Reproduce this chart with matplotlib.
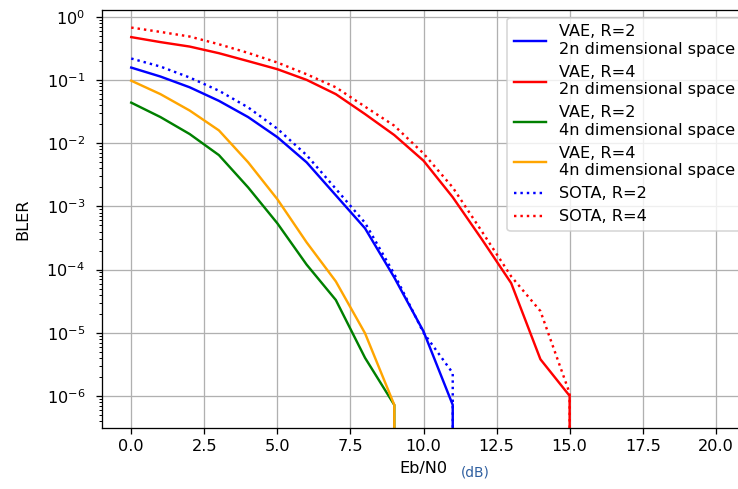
import matplotlib.pyplot as plt
import numpy as np

# Eb/N0 grid (dB) and block error rates
ebn0 = list(range(0, 21))
x_ticks = [0, 2.5, 5, 7.5, 10, 12.5, 15, 17.5, 20]
y_ticks = [1, 1e-1, 1e-2, 1e-3, 1e-4, 1e-5, 1e-6]

vae_r2_2n = [0.158, 0.114, 0.077, 0.047, 0.026, 0.0125, 0.005, 0.0015, 4.5e-4, 7.5e-5, 1.05e-5, 7.2e-7,
             0, 0, 0, 0, 0, 0, 0, 0, 0]
vae_r4_2n = [0.48, 0.40, 0.34, 0.267, 0.20, 0.149, 0.101, 0.060, 0.029, 0.0135, 0.0053, 0.0014, 3.0e-4,
             6.1e-5, 3.8e-6, 1.0e-6, 0, 0, 0, 0, 0]
vae_r2_4n = [0.044, 0.026, 0.014, 0.0065, 0.0020, 5.4e-4, 1.2e-4, 3.3e-5, 4.0e-6, 7.2e-7,
             0, 0, 0, 0, 0, 0, 0, 0, 0, 0, 0]
vae_r4_4n = [0.098, 0.060, 0.033, 0.016, 0.005, 0.0013, 2.7e-4, 6.5e-5, 9.8e-6, 7.2e-7,
             0, 0, 0, 0, 0, 0, 0, 0, 0, 0, 0]
sota_r2 = [0.22, 0.164, 0.11, 0.068, 0.037, 0.017, 0.0065, 0.0019, 5.5e-4, 8.5e-5, 1.0e-5, 2.3e-6,
           0, 0, 0, 0, 0, 0, 0, 0, 0]
sota_r4 = [0.68, 0.58, 0.49, 0.37, 0.27, 0.19, 0.124, 0.077, 0.038, 0.019, 0.0069, 0.002, 4.0e-4,
           7.8e-5, 2.2e-5, 1.1e-6, 0, 0, 0, 0, 0]

fig = plt.figure(figsize=(738 / 116, 489 / 116), dpi=116)
ax = fig.add_axes([102 / 738, 61 / 489, 643 / 738, 418 / 489])

ax.plot(ebn0, vae_r2_2n, color="blue", label="VAE, R=2\n2n dimensional space")
ax.plot(ebn0, vae_r4_2n, color="red", label="VAE, R=4\n2n dimensional space")
ax.plot(ebn0, vae_r2_4n, color="green", label="VAE, R=2\n4n dimensional space")
ax.plot(ebn0, vae_r4_4n, color="orange", label="VAE, R=4\n4n dimensional space")
ax.plot(ebn0, sota_r2, color="blue", linestyle=":", label="SOTA, R=2")
ax.plot(ebn0, sota_r4, color="red", linestyle=":", label="SOTA, R=4")

ax.set_yscale("log")
ax.set_xlim(-1, 21)
ax.set_ylim(3.1e-7, 1.29)
ax.set_xticks(x_ticks)
ax.set_yticks(y_ticks)
ax.spines["right"].set_visible(False)
ax.tick_params(axis="y", pad=7)
ax.set_ylabel("BLER")
ax.yaxis.set_label_coords(-0.112, 0.5)
ax.set_xlabel("Eb/N0")
ax.grid(True)
ax.legend(loc="upper right", bbox_to_anchor=(1.007, 1.0))

fig.text(461 / 738, 10 / 489, "(dB)", fontsize=8.5, color="#2f5fa0", ha="left", va="bottom")

plt.savefig("out.png")
